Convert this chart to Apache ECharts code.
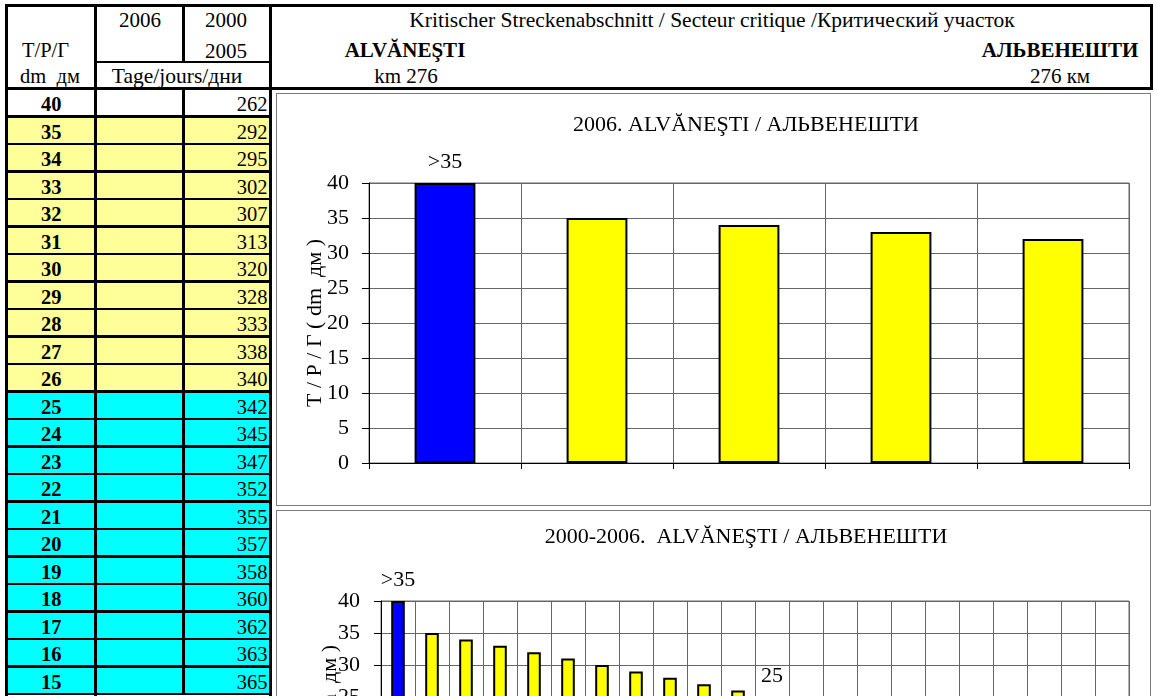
<!DOCTYPE html>
<html>
<head>
<meta charset="utf-8">
<title>ALVĂNEŞTI / АЛЬВЕНЕШТИ – km 276</title>
<script src="https://cdn.jsdelivr.net/npm/echarts@6/dist/echarts.min.js"></script>
<style>
  html, body { margin: 0; padding: 0; background: #fff; }
  body {
    width: 1157px; height: 696px; overflow: hidden; position: relative;
    font-family: "Liberation Serif", "Times New Roman", serif; color: #000;
  }
  .ln { position: absolute; background: #000; }
  .cell { position: absolute; }
  .tx { position: absolute; white-space: pre; font-size: 20px; line-height: 24px; height: 24px; }
  .frame { position: absolute; border: 1px solid #7a7a7a; box-sizing: border-box; background: #fff; overflow: hidden; }
</style>
</head>
<body>
<div id="sheet"></div>
<div class="frame" style="left:276px;top:93px;width:875px;height:413px;">
  <div id="chart2006" style="width:873px;height:411px;"></div>
</div>
<div class="frame" style="left:276px;top:510px;width:875px;height:430px;">
  <div id="chart2000" style="width:873px;height:428px;"></div>
</div>
<script>
// ---- data ----------------------------------------------------------------
// depth classes T/P/Г in dm
const depthClasses = [40, 35, 34, 33, 32, 31, 30, 29, 28, 27, 26,
                      25, 24, 23, 22, 21, 20, 19, 18, 17, 16, 15];
// number of days per depth class, 2006 (no entries recorded)
const days2006 = [];
// number of days per depth class, 2000–2005
const days2000to2005 = [262, 292, 295, 302, 307, 313, 320, 328, 333, 338, 340,
                        342, 345, 347, 352, 355, 357, 358, 360, 362, 363, 365];
// depths shown in the 2006 chart
const depths2006 = [40, 35, 34, 33, 32];
// depths shown in the 2000–2006 chart
const depths2000to2006 = [40, 35, 34, 33, 32, 31, 30, 29, 28, 27, 26,
                          25, 24, 23, 22, 21, 20, 19, 18, 17, 16, 15];
// class limits: above upper limit shown as ">35", lower limit marked on the long chart
const upperLimit = 35;
const lowerLimit = 25;

// ---- texts ---------------------------------------------------------------
const headerTitle = 'Kritischer Streckenabschnitt / Secteur critique /Критический участок';
const placeLatin = 'ALVĂNEŞTI';
const placeCyrillic = 'АЛЬВЕНЕШТИ';
const kmLatin = 'km 276';
const kmCyrillic = '276 км';
const title2006 = '2006. ALVĂNEŞTI / АЛЬВЕНЕШТИ';
const title2000 = '2000-2006.  ALVĂNEŞTI / АЛЬВЕНЕШТИ';
const axisName = 'T / P / Г ( dm  дм )';

const FONT = '"Liberation Serif", "Times New Roman", serif';
const CHART_FONT_SIZE = 22;
const BLUE = '#0000ff', YELLOW = '#ffff00', CYAN = '#00ffff';
const ROW_YELLOW = '#ffff99';

// ---- table and header ----------------------------------------------------
const sheet = document.getElementById('sheet');

function line(x, y, w, h) {
  const d = document.createElement('div');
  d.className = 'ln';
  d.style.cssText = `left:${x}px;top:${y}px;width:${w}px;height:${h}px;`;
  sheet.appendChild(d);
}
function fill(x, y, w, h, color) {
  const d = document.createElement('div');
  d.className = 'cell';
  d.style.cssText = `left:${x}px;top:${y}px;width:${w}px;height:${h}px;background:${color};`;
  sheet.appendChild(d);
}
function text(str, x, cy, align, size, bold) {
  const d = document.createElement('div');
  d.className = 'tx';
  d.textContent = str;
  const shift = align === 'center' ? '-50%' : align === 'right' ? '-100%' : '0';
  d.style.cssText = `left:${x}px;top:${cy - 12}px;transform:translateX(${shift});` +
    `font-size:${size}px;` + (bold ? 'font-weight:bold;' : '');
  sheet.appendChild(d);
}

const rowTop = 88.5, rowH = 27.5;
const colX = [5, 95.5, 183.5, 270.5];

function rowColour(d) {
  if (d > upperLimit) return '#ffffff';
  if (d > lowerLimit) return ROW_YELLOW;
  return CYAN;
}

depthClasses.forEach((d, i) => {
  const y = rowTop + i * rowH;
  fill(colX[0], y, colX[3] - colX[0], rowH, rowColour(d));
  text(String(d), (colX[0] + colX[1]) / 2 + 1, y + rowH / 2 + 2, 'center', 20.5, true);
  if (days2006[i] != null) text(String(days2006[i]), colX[2] - 3, y + rowH / 2 + 2, 'right', 20.5, false);
  if (days2000to2005[i] != null) text(String(days2000to2005[i]), colX[3] - 3, y + rowH / 2 + 2, 'right', 20.5, false);
});

// grid lines of the table
const tableBottom = rowTop + depthClasses.length * rowH;
for (let k = 1; k <= depthClasses.length; k++) {
  line(5, rowTop + k * rowH - 1, 267, 2.5);
}
line(5, 4, 1148, 3);            // header top
line(5, 87, 1148, 3);           // header bottom
line(5, 4, 3, tableBottom - 2); // left border
line(1150, 4, 3, 86);           // header right border
line(94, 4, 3, tableBottom - 2);
line(182, 4, 3, 58);
line(182, 88, 3, tableBottom - 88);
line(269, 4, 3, tableBottom - 2);
line(95, 61, 176, 2);

// header texts
text('2006', 140, 20, 'center', 21);
text('2000', 226, 20, 'center', 21);
text('T/P/Г', 22, 50, 'left', 20.5);
text('2005', 226, 51, 'center', 21);
text('dm  дм', 20, 76, 'left', 20.5);
text('Tage/jours/дни', 177, 76, 'center', 21.5);
text(headerTitle, 712, 20, 'center', 21.5);
text(placeLatin, 405, 50, 'center', 21, true);
text(kmLatin, 406, 76, 'center', 21);
text(placeCyrillic, 1060, 50, 'center', 21, true);
text(kmCyrillic, 1060, 76, 'center', 21);

// ---- charts --------------------------------------------------------------
function barColour(v) {
  if (v > upperLimit) return BLUE;
  if (v > lowerLimit) return YELLOW;
  return CYAN;
}

function barData(values, labelled) {
  return values.map(v => ({
    value: v,
    itemStyle: { color: barColour(v) },
    label: { show: labelled(v), formatter: v > upperLimit ? '>' + upperLimit : String(v) }
  }));
}

function option(cfg) {
  return {
    animation: false,
    title: {
      text: cfg.title, left: cfg.titleX, top: cfg.titleTop, textAlign: 'center', padding: 0,
      textStyle: { fontFamily: FONT, fontSize: CHART_FONT_SIZE, fontWeight: 'normal', color: '#000' }
    },
    grid: {
      left: cfg.grid[0], top: cfg.grid[1], width: cfg.grid[2], height: cfg.grid[3],
      show: true, borderColor: '#666', borderWidth: 1, backgroundColor: 'transparent'
    },
    xAxis: {
      type: 'category', data: cfg.values.map(String), boundaryGap: true,
      axisLine: { lineStyle: { color: '#000', width: 1 } },
      axisTick: { show: true, interval: 0, length: 6, lineStyle: { color: '#000' } },
      axisLabel: { show: false },
      splitLine: { show: true, interval: 0, lineStyle: { color: '#666', width: 1 } }
    },
    yAxis: {
      type: 'value', min: 0, max: 40, interval: 5,
      name: axisName, nameLocation: 'middle', nameRotate: 90, nameGap: cfg.nameGap,
      nameMoveOverlap: false,
      nameTextStyle: { fontFamily: FONT, fontSize: CHART_FONT_SIZE, color: '#000' },
      axisLine: { show: true, lineStyle: { color: '#000', width: 1 } },
      axisTick: { show: true, length: 7, lineStyle: { color: '#000' } },
      axisLabel: { margin: cfg.labelMargin, fontFamily: FONT, fontSize: CHART_FONT_SIZE, color: '#000' },
      splitLine: { show: true, lineStyle: { color: '#666', width: 1 } }
    },
    series: [{
      type: 'bar',
      data: barData(cfg.values, cfg.labelled),
      barWidth: '40%',
      itemStyle: { borderColor: '#000', borderWidth: 2 },
      label: { position: 'top', distance: 10, fontFamily: FONT, fontSize: CHART_FONT_SIZE, color: '#000' }
    }]
  };
}

const c1 = echarts.init(document.getElementById('chart2006'));
c1.setOption(option({
  title: title2006, titleX: 469, titleTop: 20,
  grid: [92, 89, 760, 280],
  values: depths2006,
  labelled: v => v > upperLimit,
  nameGap: 43, labelMargin: 20
}));

const c2 = echarts.init(document.getElementById('chart2000'));
c2.setOption(option({
  title: title2000, titleX: 469, titleTop: 15,
  grid: [104, 90, 748, 256],
  values: depths2000to2006,
  labelled: v => v > upperLimit || v === lowerLimit,
  nameGap: 40, labelMargin: 21
}));
</script>
</body>
</html>
